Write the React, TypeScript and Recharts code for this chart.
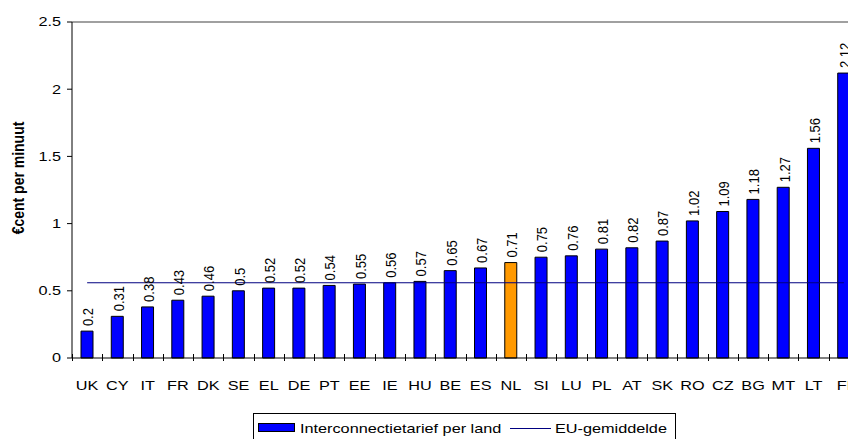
import React from "react";
import {
  ComposedChart,
  Bar,
  Line,
  XAxis,
  YAxis,
  Cell,
  LabelList,
  ReferenceLine,
  Legend,
} from "recharts";

const countries = [
  "UK", "CY", "IT", "FR", "DK", "SE", "EL", "DE", "PT", "EE", "IE", "HU", "BE",
  "ES", "NL", "SI", "LU", "PL", "AT", "SK", "RO", "CZ", "BG", "MT", "LT", "FI",
];
const tariffs = [
  0.2, 0.31, 0.38, 0.43, 0.46, 0.5, 0.52, 0.52, 0.54, 0.55, 0.56, 0.57, 0.65,
  0.67, 0.71, 0.75, 0.76, 0.81, 0.82, 0.87, 1.02, 1.09, 1.18, 1.27, 1.56, 2.12,
];
const euAverage = 0.56;
const highlight = "NL";
const yTicks = [0, 0.5, 1, 1.5, 2, 2.5];
const seriesNames = ["Interconnectietarief per land", "EU-gemiddelde"];
const yTitle = "€cent per minuut";

const data = countries.map((c, i) => ({ country: c, tariff: tariffs[i], avg: euAverage }));

const FONT = "'Liberation Sans', Arial, sans-serif";
const SX = 1.25; // horizontal stretch of the reference's text
const CHART_W = 859;
const PLOT_LEFT = 72;
const BAND = (CHART_W - PLOT_LEFT) / countries.length;

const XTick = (props: any) => {
  const { x, y, payload } = props;
  const bx = Math.round(x - BAND / 2) + 0.5;
  return (
    <g>
      <line x1={bx} x2={bx} y1={y - 12} y2={y - 5} stroke="#000" strokeWidth={1} />
      <text
        transform={`translate(${x}, ${y + 24}) scale(${SX}, 1)`}
        textAnchor="middle"
        fontSize={13}
        fontFamily={FONT}
        fill="#000"
      >
        {payload.value}
      </text>
    </g>
  );
};

const YTick = (props: any) => {
  const { x, y, payload } = props;
  return (
    <text
      transform={`translate(${x - 4}, ${y}) scale(${SX}, 1)`}
      textAnchor="end"
      dominantBaseline="central"
      fontSize={13}
      fontFamily={FONT}
      fill="#000"
    >
      {payload.value}
    </text>
  );
};

const ValueLabel = (props: any) => {
  const { x, y, width, value } = props;
  const cx = x + width / 2 + 1;
  const cy = y - 5;
  return (
    <text
      transform={`translate(${cx}, ${cy}) rotate(-90) scale(1, ${SX * 0.92})`}
      textAnchor="start"
      dominantBaseline="central"
      fontSize={13}
      fontFamily={FONT}
      fill="#000"
    >
      {value}
    </text>
  );
};

const LegendBox = () => (
  <svg width={424} height={30} style={{ display: "block" }}>
    <rect x={0.5} y={0.5} width={422} height={32} fill="#fff" stroke="#000" />
    <rect x={5.5} y={10.5} width={36} height={8} fill="#0000FF" stroke="#000" />
    <text
      transform={`translate(47, 20) scale(${SX}, 1)`}
      fontSize={13}
      fontFamily={FONT}
      fill="#000"
    >
      {seriesNames[0]}
    </text>
    <line x1={257} x2={298} y1={15.5} y2={15.5} stroke="#000080" strokeWidth={1.2} />
    <text
      transform={`translate(302, 20) scale(${SX}, 1)`}
      fontSize={13}
      fontFamily={FONT}
      fill="#000"
    >
      {seriesNames[1]}
    </text>
  </svg>
);

export default function App() {
  return (
    <div
      style={{
        position: "absolute",
        left: 0,
        top: 0,
        width: 848,
        height: 439,
        overflow: "hidden",
        background: "#fff",
      }}
    >
      <ComposedChart
        width={CHART_W}
        height={439}
        data={data}
        margin={{ top: 22, right: 0, bottom: 0, left: 0 }}
        barCategoryGap={0}
      >
        <XAxis
          dataKey="country"
          height={51}
          stroke="#000"
          tickLine={false}
          tick={<XTick />}
          interval={0}
        />
        <YAxis
          width={72}
          domain={[0, 2.5]}
          ticks={yTicks}
          stroke="#000"
          tickSize={5}
          tickMargin={2}
          tick={<YTick />}
          label={{
            content: () => (
              <text
                transform={`translate(18, 178) rotate(-90) scale(1, 1.15)`}
                textAnchor="middle"
                dominantBaseline="central"
                fontSize={14}
                fontWeight="bold"
                fontFamily={FONT}
                fill="#000"
              >
                {yTitle}
              </text>
            ),
          }}
        />
        <ReferenceLine y={2.5} stroke="#808080" strokeWidth={1.5} />
        <Legend
          verticalAlign="bottom"
          content={<LegendBox />}
          wrapperStyle={{ left: 253, top: 413, bottom: "auto", width: 424, height: 30 }}
        />
        <Bar
          dataKey="tariff"
          name={seriesNames[0]}
          barSize={12}
          fill="#0000FF"
          stroke="#000"
          strokeWidth={1}
          isAnimationActive={false}
        >
          {data.map((d) => (
            <Cell key={d.country} fill={d.country === highlight ? "#FF9900" : "#0000FF"} />
          ))}
          <LabelList dataKey="tariff" content={<ValueLabel />} />
        </Bar>
        <Line
          dataKey="avg"
          name={seriesNames[1]}
          stroke="#000080"
          strokeWidth={1.2}
          dot={false}
          activeDot={false}
          isAnimationActive={false}
        />
      </ComposedChart>
    </div>
  );
}
